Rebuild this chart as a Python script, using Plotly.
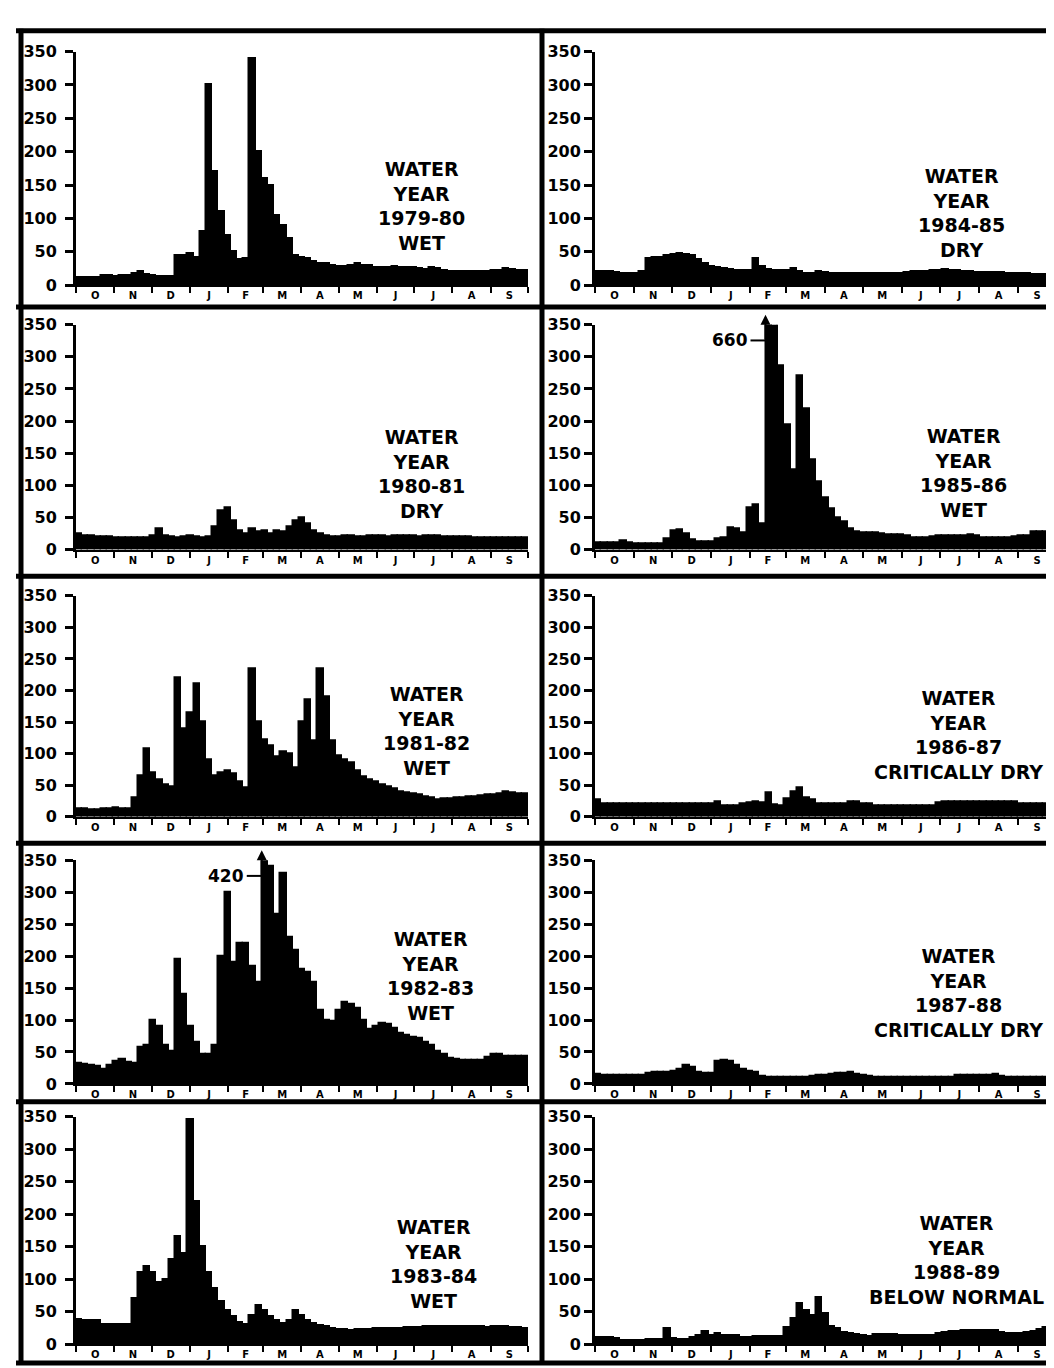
import plotly.graph_objects as go

W, H = 1054, 1368
BIN_DAYS = 5

month_letters = ["O", "N", "D", "J", "F", "M", "A", "M", "J", "J", "A", "S"]
month_lengths = [31, 30, 31, 31, 28, 31, 30, 31, 30, 31, 31, 30]
y_tick_values = [0, 50, 100, 150, 200, 250, 300, 350]

year_labels = ["1979-80", "1980-81", "1981-82", "1982-83", "1983-84",
               "1984-85", "1985-86", "1986-87", "1987-88", "1988-89"]
year_types = ["WET", "DRY", "WET", "WET", "WET",
              "DRY", "WET", "CRITICALLY DRY", "CRITICALLY DRY", "BELOW NORMAL"]

# 5-day mean flows, Oct 1 .. Sep 30 (73 values each)
flow_1979_80 = [12, 12, 11, 11, 14, 14, 13, 14, 14, 18,
                20, 16, 14, 13, 13, 13, 45, 45, 48, 42,
                80, 300, 170, 110, 75, 50, 39, 40, 340, 200,
                160, 150, 105, 90, 70, 45, 42, 40, 35, 33,
                32, 30, 28, 28, 30, 33, 30, 29, 27, 26,
                26, 28, 27, 27, 26, 25, 24, 26, 25, 22,
                20, 20, 20, 20, 20, 20, 20, 22, 22, 25,
                23, 22, 22]
flow_1980_81 = [25, 22, 21, 20, 20, 20, 19, 18, 18, 18,
                18, 18, 22, 32, 22, 20, 19, 20, 22, 20,
                18, 20, 35, 60, 65, 45, 30, 25, 32, 28,
                30, 25, 30, 28, 35, 45, 50, 40, 30, 24,
                22, 20, 20, 21, 22, 20, 20, 21, 22, 21,
                20, 21, 22, 22, 21, 20, 21, 22, 21, 20,
                20, 20, 20, 20, 19, 19, 19, 19, 19, 19,
                19, 19, 19]
flow_1981_82 = [12, 12, 11, 11, 12, 13, 14, 12, 13, 30,
                65, 108, 70, 58, 50, 47, 220, 140, 164, 210,
                150, 90, 65, 70, 73, 68, 55, 45, 235, 150,
                122, 112, 95, 103, 100, 78, 150, 185, 120, 235,
                190, 120, 97, 90, 85, 73, 63, 58, 55, 50,
                47, 44, 40, 38, 37, 34, 31, 30, 27, 28,
                29, 30, 30, 32, 32, 33, 34, 35, 37, 39,
                38, 37, 37]
flow_1982_83 = [33, 31, 30, 28, 24, 30, 35, 39, 34, 33,
                58, 60, 100, 90, 60, 52, 195, 140, 90, 65,
                47, 46, 60, 200, 300, 190, 220, 220, 185, 160,
                420, 340, 265, 330, 230, 210, 180, 175, 160, 115,
                100, 98, 115, 128, 125, 118, 100, 86, 90, 95,
                94, 88, 80, 76, 74, 72, 66, 60, 52, 46,
                41, 39, 38, 38, 38, 38, 42, 46, 46, 44,
                43, 43, 43]
flow_1983_84 = [38, 37, 36, 36, 30, 30, 30, 30, 30, 70,
                110, 120, 110, 95, 100, 130, 165, 140, 345, 220,
                150, 110, 85, 65, 52, 42, 34, 30, 45, 60,
                52, 42, 36, 32, 36, 52, 45, 36, 32, 29,
                27, 25, 23, 22, 21, 22, 22, 23, 24, 24,
                24, 25, 25, 26, 26, 26, 27, 27, 27, 27,
                28, 27, 28, 28, 27, 27, 26, 27, 28, 27,
                26, 26, 25]
flow_1984_85 = [20, 20, 20, 19, 18, 17, 18, 20, 40, 42,
                42, 44, 46, 47, 46, 44, 38, 32, 28, 27,
                25, 23, 22, 22, 22, 40, 28, 23, 22, 22,
                22, 25, 20, 17, 17, 21, 19, 17, 17, 17,
                17, 17, 17, 18, 18, 18, 18, 18, 18, 19,
                20, 21, 21, 22, 22, 23, 22, 22, 21, 21,
                19, 19, 19, 19, 19, 18, 17, 17, 17, 16,
                16, 16, 16]
flow_1985_86 = [10, 10, 10, 10, 13, 10, 9, 9, 9, 9,
                9, 17, 29, 31, 25, 15, 12, 12, 12, 17,
                19, 34, 32, 26, 65, 70, 40, 660, 420, 286,
                195, 125, 270, 220, 140, 105, 80, 64, 50, 44,
                33, 28, 26, 26, 26, 25, 23, 23, 23, 22,
                19, 18, 18, 20, 21, 21, 21, 21, 22, 23,
                22, 19, 18, 18, 18, 18, 20, 21, 21, 27,
                28, 28, 28]
flow_1986_87 = [26, 21, 21, 21, 21, 21, 21, 21, 21, 21,
                21, 21, 21, 21, 21, 21, 21, 21, 21, 23,
                18, 18, 18, 21, 22, 24, 22, 38, 19, 18,
                28, 40, 46, 30, 26, 21, 21, 21, 21, 21,
                23, 23, 20, 20, 18, 18, 18, 18, 18, 18,
                18, 18, 18, 18, 22, 23, 23, 23, 23, 23,
                23, 23, 23, 23, 23, 23, 23, 20, 20, 20,
                20, 20, 20]
flow_1987_88 = [15, 14, 14, 14, 14, 14, 14, 14, 17, 18,
                18, 18, 20, 24, 30, 26, 18, 17, 17, 36,
                37, 35, 30, 24, 20, 18, 12, 11, 11, 11,
                11, 11, 11, 11, 13, 14, 14, 16, 17, 17,
                19, 15, 14, 13, 11, 11, 11, 11, 11, 11,
                11, 11, 11, 11, 11, 11, 11, 14, 14, 14,
                14, 14, 14, 16, 12, 11, 11, 11, 11, 11,
                11, 11, 11]
flow_1988_89 = [10, 10, 10, 9, 6, 6, 6, 6, 8, 8,
                8, 25, 9, 8, 8, 11, 13, 19, 14, 17,
                14, 13, 13, 11, 11, 12, 12, 12, 12, 12,
                26, 40, 62, 52, 45, 72, 48, 28, 24, 18,
                17, 15, 13, 12, 15, 15, 15, 15, 14, 14,
                14, 14, 14, 14, 17, 18, 19, 20, 21, 21,
                21, 21, 21, 21, 18, 16, 16, 16, 18, 20,
                22, 26, 20]

series = [flow_1979_80, flow_1980_81, flow_1981_82, flow_1982_83, flow_1983_84,
          flow_1984_85, flow_1985_86, flow_1986_87, flow_1987_88, flow_1988_89]

# ---------- geometry (pixels) ----------
col_x = [(68, 520), (587, 1048)]
row_zero_px = [272, 540, 811, 1082, 1346]
row_top_px = [35, 312, 587, 855, 1115]
label_px = [(413, 192), (413, 463), (418, 724), (422, 973), (425, 1265),
            (953, 199), (955, 462), (950, 728), (950, 990), (948, 1261)]
border_y = [14, 294, 567, 838, 1100, 1365]
border_x = [13, 534]

def px_x(x):
    return x / W

def px_y(y):
    return 1 - y / H

boundaries = [0]
for m in month_lengths:
    boundaries.append(boundaries[-1] + m)
centers = [(boundaries[i] + boundaries[i + 1]) / 2 for i in range(12)]
YEAR_DAYS = boundaries[-1]

fig = go.Figure()
annotations = []
shapes = []

for k, vals in enumerate(series):
    col, row = divmod(k, 5)
    n = k + 1
    xname = "x" if n == 1 else f"x{n}"
    yname = "y" if n == 1 else f"y{n}"
    xs = [BIN_DAYS * i + BIN_DAYS / 2 for i in range(len(vals))]
    fig.add_trace(go.Bar(
        x=xs, y=vals, width=BIN_DAYS, xaxis=xname, yaxis=yname,
        marker=dict(color="black", line=dict(color="black", width=1.5)),
        showlegend=False, hoverinfo="skip"))

    x0, x1 = col_x[col]
    xa = dict(
        domain=[px_x(x0), px_x(x1)], range=[0, YEAR_DAYS], anchor=yname,
        showline=True, linecolor="black", linewidth=2, showgrid=False, zeroline=False,
        tickmode="array", tickvals=centers, ticktext=month_letters,
        ticks="", ticklabelstandoff=0,
        tickfont=dict(family="DejaVu Sans", size=10, color="black", weight="bold"),
        minor=dict(tickmode="array", tickvals=boundaries, ticks="outside",
                   ticklen=6, tickwidth=2, tickcolor="black", showgrid=False),
        fixedrange=True)
    ya = dict(
        domain=[px_y(row_zero_px[row]), px_y(row_top_px[row])], range=[0, 350],
        anchor=xname, showline=True, linecolor="black", linewidth=3,
        showgrid=False, zeroline=False, tickmode="array", tickvals=y_tick_values,
        ticks="outside", ticklen=8, tickwidth=3, tickcolor="black",
        ticklabelstandoff=5 if col == 0 else 0,
        tickfont=dict(family="DejaVu Sans", size=16, color="black", weight="bold"),
        fixedrange=True)
    fig.update_layout(**{("xaxis" if n == 1 else f"xaxis{n}"): xa,
                         ("yaxis" if n == 1 else f"yaxis{n}"): ya})

    cx, cy = label_px[k]
    annotations.append(dict(
        xref="paper", yref="paper", x=px_x(cx), y=px_y(cy),
        xanchor="center", yanchor="middle", align="center", showarrow=False,
        text=f"WATER<br>YEAR<br>{year_labels[k]}<br>{year_types[k]}",
        font=dict(family="DejaVu Sans", size=19, color="black", weight="bold")))

    # off-scale peak marker
    vmax = max(vals)
    if vmax > 350:
        i = vals.index(vmax)
        ax_px = x0 + (BIN_DAYS * i) / YEAR_DAYS * (x1 - x0)
        tail_px = row_top_px[row] + 16
        head_px = row_top_px[row] - 10
        shapes.append(dict(type="line", xref="paper", yref="paper",
                           x0=px_x(ax_px - 15), x1=px_x(ax_px + 1),
                           y0=px_y(tail_px), y1=px_y(tail_px),
                           line=dict(color="black", width=2)))
        annotations.append(dict(
            xref="paper", yref="paper", x=px_x(ax_px), y=px_y(head_px),
            ax=0, ay=tail_px - head_px, text="", showarrow=True,
            arrowhead=2, arrowsize=1, arrowwidth=2, arrowcolor="black"))
        annotations.append(dict(
            xref="paper", yref="paper", x=px_x(ax_px - 16), y=px_y(tail_px),
            xanchor="right", yanchor="middle", showarrow=False, text=str(vmax),
            font=dict(family="DejaVu Sans", size=17, color="black", weight="bold")))

# panel borders
for by in border_y:
    shapes.append(dict(type="line", xref="paper", yref="paper",
                       x0=px_x(8), x1=1.0, y0=px_y(by), y1=px_y(by),
                       line=dict(color="black", width=5)))
for bx in border_x:
    shapes.append(dict(type="line", xref="paper", yref="paper",
                       x0=px_x(bx), x1=px_x(bx), y0=px_y(12), y1=px_y(1367),
                       line=dict(color="black", width=5)))

fig.update_layout(
    width=W, height=H, margin=dict(l=0, r=0, t=0, b=0),
    paper_bgcolor="white", plot_bgcolor="white", bargap=0,
    font=dict(family="DejaVu Sans", color="black"),
    annotations=annotations, shapes=shapes, showlegend=False)

fig.write_html("out.html")
